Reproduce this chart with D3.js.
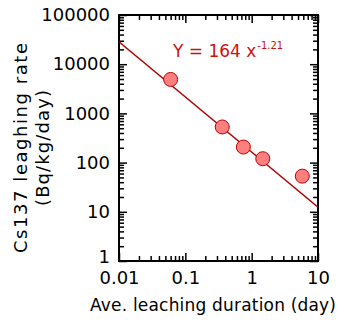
<!DOCTYPE html>
<html>
<head>
<meta charset="utf-8">
<script src="https://cdn.jsdelivr.net/npm/d3@7"></script>
<style>
  body { margin: 0; background: #fff; }
  text { font-family: "DejaVu Sans", sans-serif; }
</style>
</head>
<body>
<svg id="chart" width="338" height="323"></svg>
<script>
// leaching samples
var durations = [0.06, 0.36, 0.75, 1.47, 5.8];
var rates = [4900, 530, 207, 120, 53];

// fitted power law, as drawn
var fitCoef = 164;
var fitExp = -1.12;
var fitLabel = "Y = 164 x";
var fitLabelExp = "-1.21";

var xDomain = [0.01, 10];
var yDomain = [1, 100000];

var width = 338, height = 323;
var margin = { top: 15, right: 20, bottom: 62, left: 119 };

var svg = d3.select("#chart");

var x = d3.scaleLog().domain(xDomain).range([margin.left, width - margin.right]);
var y = d3.scaleLog().domain(yDomain).range([height - margin.bottom, margin.top]);

var isMajor = function (d) { return Math.abs(Math.log10(d) - Math.round(Math.log10(d))) < 1e-9; };
var xMinor = x.ticks().filter(function (d) { return !isMajor(d); });
var xMajor = x.ticks().filter(isMajor);
var yMinor = y.ticks().filter(function (d) { return !isMajor(d); });
var yMajor = y.ticks().filter(isMajor);

var majLen = 8, minLen = 5;
var plotW = x.range()[1], plotH = y.range()[0];

function styleAxis(g) {
  g.select(".domain").remove();
  g.selectAll(".tick line").attr("stroke", "#000").attr("stroke-width", 1.5);
}

// bottom
svg.append("g").attr("transform", "translate(0," + plotH + ")")
  .call(d3.axisBottom(x).tickValues(xMajor).tickSize(-majLen).tickPadding(10).tickFormat(d3.format("~g")))
  .call(styleAxis)
  .selectAll("text").attr("font-size", 18).attr("fill", "#000");
svg.append("g").attr("transform", "translate(0," + plotH + ")")
  .call(d3.axisBottom(x).tickValues(xMinor).tickSize(-minLen).tickFormat(""))
  .call(styleAxis);
// top
svg.append("g").attr("transform", "translate(0," + margin.top + ")")
  .call(d3.axisTop(x).tickValues(xMajor).tickSize(-majLen).tickFormat(""))
  .call(styleAxis);
svg.append("g").attr("transform", "translate(0," + margin.top + ")")
  .call(d3.axisTop(x).tickValues(xMinor).tickSize(-minLen).tickFormat(""))
  .call(styleAxis);
// left
var yAxisG = svg.append("g").attr("transform", "translate(" + margin.left + ",0)")
  .call(d3.axisLeft(y).tickValues(yMajor).tickSize(-majLen).tickPadding(9).tickFormat(d3.format("d")))
  .call(styleAxis);
yAxisG.selectAll("text").attr("font-size", 18).attr("fill", "#000");
// lowest label sits a bit above the corner
yAxisG.selectAll("text").filter(function (d) { return d === yDomain[0]; }).attr("dy", "0.1em");
svg.append("g").attr("transform", "translate(" + margin.left + ",0)")
  .call(d3.axisLeft(y).tickValues(yMinor).tickSize(-minLen).tickFormat(""))
  .call(styleAxis);
// right
svg.append("g").attr("transform", "translate(" + plotW + ",0)")
  .call(d3.axisRight(y).tickValues(yMajor).tickSize(-majLen).tickFormat(""))
  .call(styleAxis);
svg.append("g").attr("transform", "translate(" + plotW + ",0)")
  .call(d3.axisRight(y).tickValues(yMinor).tickSize(-minLen).tickFormat(""))
  .call(styleAxis);

// frame
svg.append("rect")
  .attr("x", margin.left).attr("y", margin.top)
  .attr("width", plotW - margin.left).attr("height", plotH - margin.top)
  .attr("fill", "none").attr("stroke", "#000").attr("stroke-width", 2);

// fit line
svg.append("clipPath").attr("id", "clip").append("rect")
  .attr("x", margin.left).attr("y", margin.top)
  .attr("width", plotW - margin.left).attr("height", plotH - margin.top);

var line = d3.line()
  .x(function (d) { return x(d); })
  .y(function (d) { return y(fitCoef * Math.pow(d, fitExp)); });

svg.append("path")
  .datum(xDomain)
  .attr("clip-path", "url(#clip)")
  .attr("d", line)
  .attr("fill", "none")
  .attr("stroke", "#b00000")
  .attr("stroke-width", 1.3);

// points
svg.append("g").selectAll("circle")
  .data(durations)
  .enter().append("circle")
  .attr("cx", function (d) { return x(d); })
  .attr("cy", function (d, i) { return y(rates[i]); })
  .attr("r", 7)
  .attr("fill", "#ff7f7f")
  .attr("stroke", "#c00000")
  .attr("stroke-width", 1);

// equation
var eq = svg.append("text")
  .attr("x", 173).attr("y", 57)
  .attr("font-size", 17)
  .attr("fill", "#cc1111");
eq.append("tspan").text(fitLabel);
eq.append("tspan").attr("font-size", 10).attr("dy", -8).attr("dx", 1).text(fitLabelExp);

// axis titles
svg.append("text")
  .attr("x", 213).attr("y", 311)
  .attr("text-anchor", "middle")
  .attr("font-size", 17)
  .attr("textLength", 246)
  .attr("fill", "#000")
  .text("Ave. leaching duration (day)");

var yt = svg.append("text")
  .attr("transform", "translate(27,148) rotate(-90)")
  .attr("text-anchor", "middle")
  .attr("font-size", 18)
  .attr("fill", "#000");
yt.append("tspan").attr("x", 0).attr("dy", 0).attr("textLength", 210).text("Cs137 leaghing rate");
yt.append("tspan").attr("x", 0).attr("dy", 22).attr("textLength", 116).text("(Bq/kg/day)");
</script>
</body>
</html>
